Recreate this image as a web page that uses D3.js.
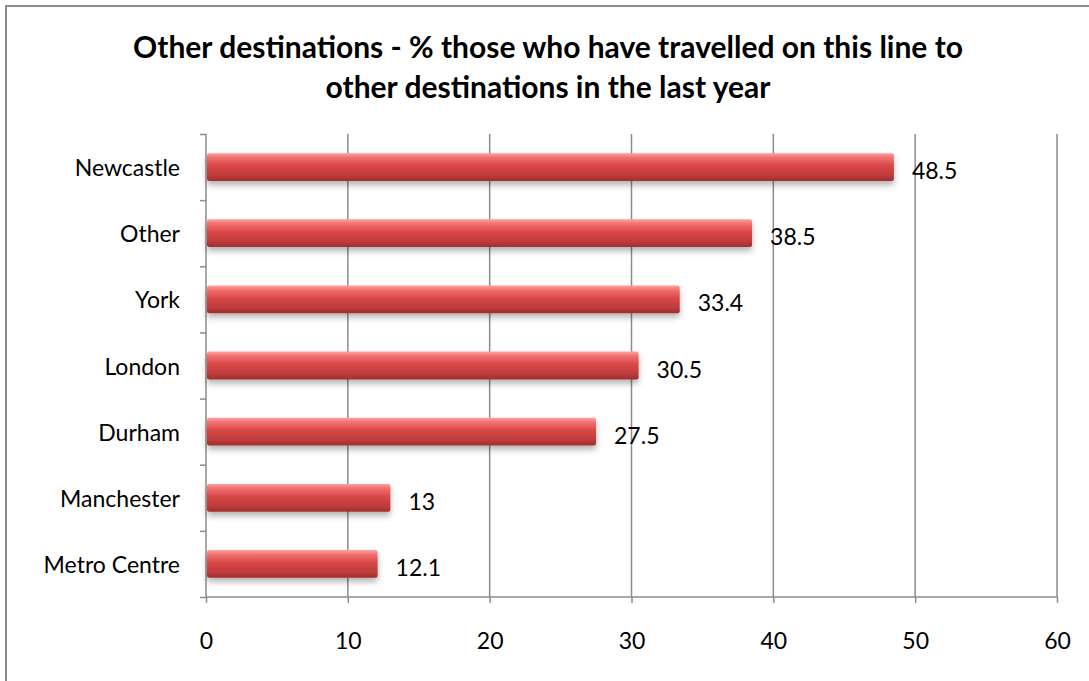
<!DOCTYPE html>
<html><head><meta charset="utf-8">
<script src="https://cdn.jsdelivr.net/npm/d3@7"></script>
<style>body{margin:0;background:#fff}svg{display:block}text{font-family:Lato,"Open Sans",sans-serif}</style>
</head><body>
<svg id="c" width="1089" height="681"></svg>
<script>
const categories = ["Newcastle","Other","York","London","Durham","Manchester","Metro Centre"];
const values = [48.5,38.5,33.4,30.5,27.5,13,12.1];
const valueLabels = ["48.5","38.5","33.4","30.5","27.5","13","12.1"];
const xTicks = [0,10,20,30,40,50,60];
const titleLines = ["Other destinations - % those who have travelled on this line to","other destinations in the last year"];

(function(){
const svg = d3.select("#c");
const pL = 206, pR = 1057, pT = 134, pB = 597;

svg.append("rect").attr("x",6).attr("y",6).attr("width",1100).attr("height",700)
  .attr("fill","#fff").attr("stroke","#8c8c8c").attr("stroke-width",2);

const defs = svg.append("defs");
const g = defs.append("linearGradient").attr("id","bar").attr("x1",0).attr("y1",0).attr("x2",0).attr("y2",1);
[[0,"#fba3a3"],[0.15,"#f47272"],[0.45,"#d94848"],[0.8,"#bf3b3b"],[1,"#9c3030"]].forEach(s=>g.append("stop").attr("offset",s[0]).attr("stop-color",s[1]));
const f = defs.append("filter").attr("id","sh").attr("x","-5%").attr("y","-30%").attr("width","110%").attr("height","180%");
f.append("feDropShadow").attr("dx",0).attr("dy",4).attr("stdDeviation",3).attr("flood-color","#000").attr("flood-opacity",0.3);

const x = d3.scaleLinear().domain([0,60]).range([pL,pR]);
const y = d3.scaleBand().domain(categories).range([pT,pB]).paddingInner(0.58).paddingOuter(0.29);

svg.append("g").selectAll("line").data(xTicks.slice(1)).join("line")
  .attr("x1",d=>x(d)).attr("x2",d=>x(d)).attr("y1",pT).attr("y2",pB)
  .attr("stroke","#8c8c8c").attr("stroke-width",1.5);

const xa = svg.append("g").attr("transform",`translate(0,${pB})`)
  .call(d3.axisBottom(x).tickValues(xTicks).tickSize(6).tickPadding(30));
xa.select(".domain").attr("stroke","#8c8c8c").attr("stroke-width",1.5).attr("d",`M${pL},0H${pR}`);
xa.selectAll(".tick line").attr("stroke","#8c8c8c").attr("stroke-width",1.5);
xa.selectAll("text").attr("font-size",23).attr("fill","#000");

const yb = d3.scaleLinear().domain([0,categories.length]).range([pT,pB]);
const ya = svg.append("g").attr("transform",`translate(${pL},0)`)
  .call(d3.axisLeft(yb).tickValues(d3.range(categories.length+1)).tickSize(6).tickFormat(""));
ya.select(".domain").attr("stroke","#8c8c8c").attr("stroke-width",1.5).attr("d",`M0,${pT}V${pB}`);
ya.selectAll(".tick line").attr("stroke","#8c8c8c").attr("stroke-width",1.5);

svg.append("g").selectAll("text").data(categories).join("text")
  .attr("x",pL-26).attr("y",d=>y(d)+y.bandwidth()/2+9)
  .attr("text-anchor","end").attr("font-size",23).attr("fill","#000").text(d=>d);

svg.append("g").selectAll("rect").data(values).join("rect")
  .attr("x",x(0)+1).attr("y",(d,i)=>y(categories[i]))
  .attr("width",d=>x(d)-x(0)-1).attr("height",y.bandwidth())
  .attr("rx",2).attr("fill","url(#bar)").attr("filter","url(#sh)");

svg.append("g").selectAll("text").data(values).join("text")
  .attr("x",d=>x(d)+18).attr("y",(d,i)=>y(categories[i])+y.bandwidth()/2+12)
  .attr("font-size",23).attr("fill","#000").text((d,i)=>valueLabels[i]);

svg.append("g").selectAll("text").data(titleLines).join("text")
  .attr("x",548).attr("y",(d,i)=>58+i*40).attr("text-anchor","middle")
  .attr("font-size",30).attr("font-weight","bold").attr("fill","#000").text(d=>d);
})();
</script>
</body></html>
